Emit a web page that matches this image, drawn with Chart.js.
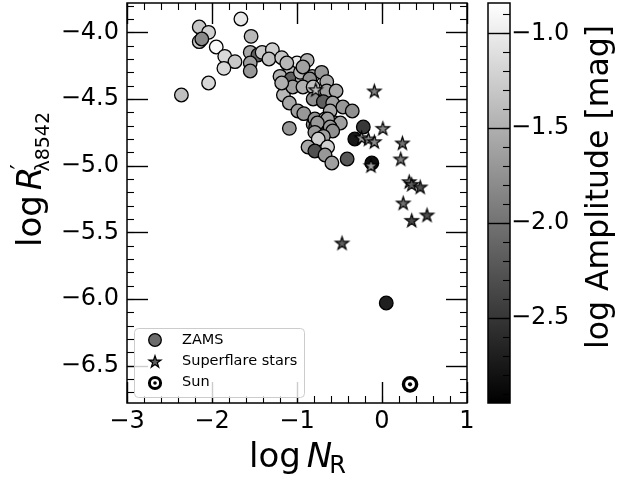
<!DOCTYPE html>
<html><head><meta charset="utf-8">
<script src="https://cdn.jsdelivr.net/npm/chart.js@4/dist/chart.umd.min.js"></script>
<style>html,body{margin:0;padding:0;background:#fff}#wrap{width:619px;height:479px;position:relative}</style>
</head><body><div id="wrap"><canvas id="c" width="619" height="479"></canvas></div>
<script>
// ---------- data ----------
const zamsLogN = [-2.15,-2.04,-2.15,-2.12,-1.95,-1.85,-1.73,-1.86,-1.66,-2.04,-2.36,
  -1.54,-1.55,-1.46,-1.55,-1.55,-1.41,-1.29,-1.33,-1.18,-1.11,-1.00,-0.88,-1.08,-1.20,
  -1.07,-0.94,-0.96,-0.82,-0.71,-0.93,-0.85,-1.16,-1.05,-0.93,-0.81,-0.65,-0.65,-0.54,
  -1.09,-0.99,-0.92,-0.81,-0.69,-0.58,-0.81,-0.61,-0.46,-0.35,-0.79,-0.67,-0.55,-0.49,
  -0.78,-0.64,-0.76,-0.61,-0.58,-0.79,-0.69,-1.09,-0.75,-0.64,-0.87,-0.79,-0.67,-0.59,
  -0.41,-0.22,-0.32,-0.12,0.05,-1.18,-1.12];
const zamsLogR = [-3.96,-4.00,-4.07,-4.05,-4.11,-4.18,-4.22,-4.27,-3.90,-4.38,-4.47,
  -4.03,-4.15,-4.17,-4.23,-4.29,-4.15,-4.13,-4.20,-4.19,-4.24,-4.23,-4.21,-4.30,-4.33,
  -4.35,-4.35,-4.30,-4.33,-4.30,-4.26,-4.35,-4.47,-4.41,-4.41,-4.41,-4.37,-4.44,-4.44,
  -4.53,-4.59,-4.61,-4.50,-4.52,-4.53,-4.69,-4.59,-4.56,-4.59,-4.65,-4.65,-4.68,-4.68,
  -4.71,-4.65,-4.68,-4.71,-4.74,-4.75,-4.78,-4.72,-4.80,-4.86,-4.86,-4.89,-4.92,-4.98,
  -4.95,-4.71,-4.80,-4.98,-6.03,-4.38,-4.23];
const zamsLogAmp = [-1.30,-1.23,-1.30,-1.82,-0.90,-1.16,-1.30,-1.16,-1.03,-1.16,-1.36,
  -1.43,-1.56,-2.16,-1.63,-1.69,-1.30,-1.23,-1.36,-1.30,-1.43,-1.03,-1.49,-1.36,-1.49,
  -2.16,-1.56,-1.43,-1.63,-1.69,-1.63,-1.76,-1.43,-1.63,-1.49,-1.36,-1.56,-1.63,-1.56,
  -1.56,-1.63,-1.69,-1.76,-2.16,-1.63,-1.69,-1.56,-1.69,-1.76,-1.76,-1.56,-1.69,-1.63,
  -1.82,-1.63,-1.69,-1.69,-1.76,-1.69,-1.63,-1.69,-1.23,-1.23,-1.56,-2.29,-1.69,-1.63,
  -2.22,-2.49,-2.75,-2.82,-2.69,-1.49,-1.43];

const sfLogN   = [-0.78,-0.09,0.01,-0.24,-0.16,-0.09,0.24,0.22,-0.13,0.32,0.35,0.45,0.25,0.35,0.53,-0.47];
const sfLogR   = [-4.43,-4.44,-4.72,-4.79,-4.80,-4.82,-4.83,-4.95,-5.00,-5.12,-5.14,-5.16,-5.28,-5.41,-5.37,-5.58];
const sfLogAmp = [-1.36,-1.89,-1.82,-1.63,-1.76,-1.82,-2.02,-1.89,-1.63,-2.02,-2.16,-2.29,-2.02,-2.35,-2.29,-2.16];

const sunLogN = [0.33];
const sunLogR = [-6.64];

const xTicks  = [-3, -2, -1, 0, 1];
const yTicks  = [-6.5, -6.0, -5.5, -5.0, -4.5, -4.0];
const cbTicks = [-2.5, -2.0, -1.5, -1.0];
const legendLabels = ['ZAMS', 'Superflare stars', 'Sun'];

// ---------- helpers ----------
const X_MIN = -3, X_MAX = 1, Y_MIN = -6.78, Y_MAX = -3.78;
const AMP_MIN = -2.95, AMP_MAX = -0.84;
const FONT = "'DejaVu Sans', 'Liberation Sans', sans-serif";
const MINUS = '\u2212';
function fmt1(v){ return (v < 0 ? MINUS : '') + Math.abs(v).toFixed(1); }
function fmt0(v){ return (v < 0 ? MINUS : '') + Math.abs(v).toFixed(0); }
function grayFor(v){
  let t = (v - AMP_MIN) / (AMP_MAX - AMP_MIN);
  t = Math.max(0, Math.min(1, t));
  const g = Math.round(t * 255);
  return 'rgb(' + g + ',' + g + ',' + g + ')';
}
function starPath(g, cx, cy, R){
  const r = R * 0.382;
  g.beginPath();
  for (let i = 0; i < 10; i++){
    const a = -Math.PI / 2 + i * Math.PI / 5;
    const rr = i % 2 === 0 ? R : r;
    g.lineTo(cx + rr * Math.cos(a), cy + rr * Math.sin(a));
  }
  g.closePath();
}
const starCache = {};
function starImage(fill){
  if (starCache[fill]) return starCache[fill];
  const R = 6.9, size = 19;
  const c = document.createElement('canvas');
  c.width = size; c.height = size;
  const g = c.getContext('2d');
  starPath(g, size / 2, size / 2 + 0.6, R);
  g.fillStyle = fill; g.fill();
  g.lineWidth = 1.2; g.strokeStyle = '#000'; g.lineJoin = 'miter'; g.stroke();
  starCache[fill] = c;
  return c;
}
const pts = (xs, ys) => xs.map((x, i) => ({x: x, y: ys[i]}));
function noPad(s){ s.paddingTop = 0; s.paddingBottom = 0; s.paddingLeft = 0; s.paddingRight = 0; }

// ---------- decorations plugin: frame, inward ticks, colorbar, titles, legend ----------
const decor = {
  id: 'decor',
  afterDatasetsDraw(chart){
    const ctx = chart.ctx, ca = chart.chartArea;
    const sx = chart.scales.x, sy = chart.scales.y, sc = chart.scales.cb;
    ctx.save();
    ctx.strokeStyle = '#000';
    const line = (x1, y1, x2, y2) => { ctx.beginPath(); ctx.moveTo(x1, y1); ctx.lineTo(x2, y2); ctx.stroke(); };
    // minor ticks
    ctx.lineWidth = 1.1;
    for (let k = Math.round(X_MIN / 0.2); k <= Math.round(X_MAX / 0.2); k++){
      const px = Math.round(sx.getPixelForValue(k * 0.2)) + 0.5;
      line(px, ca.bottom, px, ca.bottom - 7); line(px, ca.top, px, ca.top + 7);
    }
    for (let k = Math.ceil(Y_MIN / 0.1); k <= Math.floor(Y_MAX / 0.1); k++){
      const py = Math.round(sy.getPixelForValue(k * 0.1)) + 0.5;
      line(ca.left, py, ca.left + 7, py); line(ca.right, py, ca.right - 7, py);
    }
    // major ticks
    ctx.lineWidth = 1.4;
    xTicks.forEach(v => { const px = Math.round(sx.getPixelForValue(v)) + 0.5;
      line(px, ca.bottom, px, ca.bottom - 21); line(px, ca.top, px, ca.top + 21); });
    yTicks.forEach(v => { const py = Math.round(sy.getPixelForValue(v)) + 0.5;
      line(ca.left, py, ca.left + 21, py); line(ca.right, py, ca.right - 21, py); });
    // frame
    ctx.lineWidth = 1.5;
    ctx.strokeRect(ca.left, ca.top, ca.right - ca.left, ca.bottom - ca.top);

    // colorbar
    const cbL = 488, cbR = 510;
    const cTop = sc.getPixelForValue(AMP_MAX), cBot = sc.getPixelForValue(AMP_MIN);
    const grad = ctx.createLinearGradient(0, cBot, 0, cTop);
    grad.addColorStop(0, grayFor(AMP_MIN)); grad.addColorStop(1, grayFor(AMP_MAX));
    ctx.fillStyle = grad;
    ctx.fillRect(cbL, cTop, cbR - cbL, cBot - cTop);
    ctx.lineWidth = 1.1;
    for (let k = Math.ceil(AMP_MIN / 0.1); k <= Math.floor(AMP_MAX / 0.1); k++){
      const py = Math.round(sc.getPixelForValue(k * 0.1)) + 0.5;
      line(cbR, py, cbR - 7, py);
    }
    ctx.lineWidth = 1.4;
    cbTicks.forEach(v => { const py = Math.round(sc.getPixelForValue(v)) + 0.5; line(cbR, py, cbL, py); });
    ctx.lineWidth = 1.5;
    ctx.strokeRect(cbL, cTop, cbR - cbL, cBot - cTop);

    // axis titles
    ctx.fillStyle = '#000';
    ctx.textBaseline = 'alphabetic'; ctx.textAlign = 'left';
    // x title: log N_R
    let x = 249;
    ctx.font = '34px ' + FONT; ctx.fillText('log', x, 467); x += ctx.measureText('log').width + 6;
    ctx.font = 'italic 34px ' + FONT; ctx.fillText('N', x, 467); x += ctx.measureText('N').width - 3;
    ctx.font = '24px ' + FONT; ctx.fillText('R', x, 473);
    // y title: log R'_{λ8542}
    ctx.save();
    ctx.translate(41, 247); ctx.rotate(-Math.PI / 2);
    let t = 0;
    ctx.font = '34px ' + FONT; ctx.fillText('log', t, 0); t += ctx.measureText('log').width + 5;
    ctx.font = 'italic 34px ' + FONT; ctx.fillText('R', t, 0); t += ctx.measureText('R').width;
    ctx.font = '24px ' + FONT; ctx.fillText('\u2032', t - 3, -13);
    ctx.font = '19px ' + FONT; ctx.fillText('\u03bb8542', t - 5, 8);
    ctx.restore();
    // colorbar title
    ctx.save();
    ctx.translate(608, 349); ctx.rotate(-Math.PI / 2);
    ctx.font = '31.5px ' + FONT; ctx.fillText('log Amplitude [mag]', 0, 0);
    ctx.restore();

    // legend
    const bx = 134.5, by = 328.5, bw = 170, bh = 69;
    ctx.beginPath();
    ctx.roundRect(bx, by, bw, bh, 4);
    ctx.fillStyle = 'rgba(255,255,255,0.8)'; ctx.fill();
    ctx.strokeStyle = '#cccccc'; ctx.lineWidth = 1; ctx.stroke();
    ctx.strokeStyle = '#000';
    ctx.beginPath(); ctx.arc(155, 340, 6.3, 0, Math.PI * 2);
    ctx.fillStyle = '#6b6b6b'; ctx.fill(); ctx.lineWidth = 1.3; ctx.stroke();
    starPath(ctx, 155, 362, 6.3);
    ctx.fillStyle = '#5e5e5e'; ctx.fill(); ctx.lineWidth = 1.2; ctx.stroke();
    ctx.beginPath(); ctx.arc(155, 383, 5.6, 0, Math.PI * 2);
    ctx.fillStyle = '#fff'; ctx.fill(); ctx.lineWidth = 3; ctx.stroke();
    ctx.beginPath(); ctx.arc(155, 383, 1.8, 0, Math.PI * 2); ctx.fillStyle = '#000'; ctx.fill();
    ctx.font = '14.5px ' + FONT; ctx.textBaseline = 'middle'; ctx.fillStyle = '#000';
    ctx.fillText(legendLabels[0], 182, 340);
    ctx.fillText(legendLabels[1], 182, 361);
    ctx.fillText(legendLabels[2], 182, 382);
    ctx.restore();
  }
};

const tickFont = {family: FONT, size: 24};
new Chart(document.getElementById('c'), {
  type: 'scatter',
  data: {
    datasets: [
      { label: legendLabels[0], data: pts(zamsLogN, zamsLogR), order: 4,
        pointStyle: 'circle', pointRadius: 6.8, pointBorderWidth: 1.3, pointBorderColor: '#000',
        pointBackgroundColor: c => grayFor(zamsLogAmp[c.dataIndex]) },
      { label: legendLabels[1], data: pts(sfLogN, sfLogR), order: 3,
        pointStyle: c => starImage(grayFor(sfLogAmp[c.dataIndex])), pointRadius: 7 },
      { label: legendLabels[2], data: pts(sunLogN, sunLogR), order: 2,
        pointStyle: 'circle', pointRadius: 6.6, pointBorderWidth: 3.4, pointBorderColor: '#000', pointBackgroundColor: '#fff' },
      { label: 'Sun centre', data: pts(sunLogN, sunLogR), order: 1,
        pointStyle: 'circle', pointRadius: 2.1, pointBorderWidth: 0, pointBackgroundColor: '#000' }
    ]
  },
  options: {
    responsive: false, animation: false, devicePixelRatio: 1, events: [],
    layout: {padding: {top: 3, left: 0, right: 0, bottom: 0}, autoPadding: false},
    plugins: {legend: {display: false}, tooltip: {enabled: false}},
    scales: {
      x: { type: 'linear', position: 'bottom', min: X_MIN, max: X_MAX,
        afterBuildTicks: s => { s.ticks = xTicks.map(v => ({value: v})); },
        afterFit: s => { s.height = 76; noPad(s); },
        grid: {display: false, drawTicks: false}, border: {display: false},
        ticks: {font: tickFont, color: '#000', padding: 4, maxRotation: 0, autoSkip: false, callback: v => fmt0(v)} },
      y: { type: 'linear', position: 'left', min: Y_MIN, max: Y_MAX,
        afterBuildTicks: s => { s.ticks = yTicks.map(v => ({value: v})); },
        afterFit: s => { s.width = 127; noPad(s); },
        grid: {display: false, drawTicks: false}, border: {display: false},
        ticks: {font: tickFont, color: '#000', padding: 8, autoSkip: false, callback: v => fmt1(v)} },
      cb: { type: 'linear', position: 'right', axis: 'y', min: AMP_MIN, max: AMP_MAX,
        afterBuildTicks: s => { s.ticks = cbTicks.map(v => ({value: v})); },
        afterFit: s => { s.width = 152; noPad(s); },
        grid: {display: false, drawTicks: false}, border: {display: false},
        ticks: {font: tickFont, color: '#000', padding: 44, autoSkip: false, callback: v => fmt1(v)} }
    }
  },
  plugins: [decor]
});
</script></body></html>
